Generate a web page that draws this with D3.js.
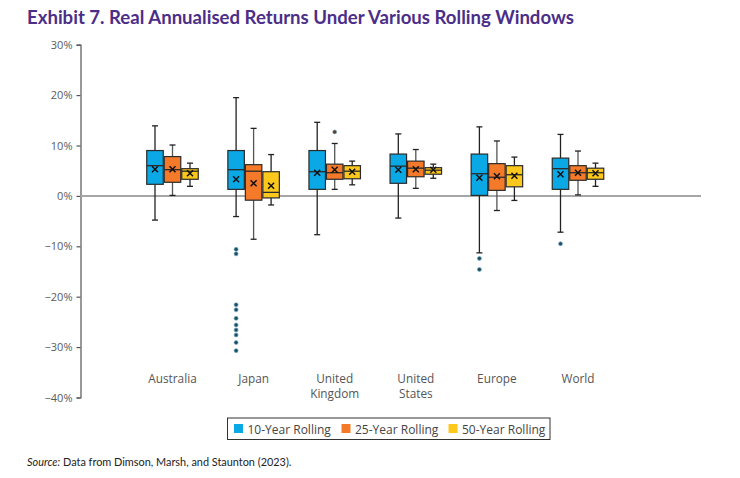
<!DOCTYPE html>
<html>
<head>
<meta charset="utf-8">
<script src="https://cdn.jsdelivr.net/npm/d3@7/dist/d3.min.js"></script>
<style>
  html, body { margin: 0; padding: 0; background: #fff; }
  svg { display: block; }
</style>
</head>
<body>
<svg id="chart" width="740" height="478"></svg>
<script>
// ---------------- DATA ----------------
const categories = ["Australia", "Japan", "United Kingdom", "United States", "Europe", "World"];
const categoryLines = [["Australia"], ["Japan"], ["United", "Kingdom"], ["United", "States"], ["Europe"], ["World"]];
const seriesNames = ["10-Year Rolling", "25-Year Rolling", "50-Year Rolling"];
const yTicks = [30, 20, 10, 0, -10, -20, -30, -40];

// per category: whisker low, Q1, median, Q3, whisker high, mean (in %)
const low10  = [-4.8, -4.1, -7.7, -4.4, -11.3, -7.2];
const q1_10  = [2.3, 1.3, 1.3, 2.5, 0.1, 1.3];
const med10  = [6.0, 5.2, 4.8, 5.9, 4.4, 5.4];
const q3_10  = [9.0, 9.0, 9.0, 8.3, 8.3, 7.5];
const high10 = [13.9, 19.5, 14.6, 12.3, 13.7, 12.2];
const mean10 = [5.3, 3.3, 4.6, 5.2, 3.6, 4.3];

const low25  = [0.1, -8.6, 1.3, 1.5, -2.9, 0.2];
const q1_25  = [2.7, -0.85, 3.3, 3.8, 1.1, 3.1];
const med25  = [5.2, 4.9, 4.6, 5.5, 3.7, 4.6];
const q3_25  = [7.8, 6.2, 6.3, 6.9, 6.4, 6.0];
const high25 = [10.1, 13.4, 10.4, 9.2, 10.9, 8.9];
const mean25 = [5.3, 2.5, 5.2, 5.3, 3.9, 4.6];

const low50  = [1.9, -1.8, 2.2, 3.5, -0.9, 1.9];
const q1_50  = [3.3, -0.4, 3.4, 4.3, 1.8, 3.3];
const med50  = [4.9, 0.7, 4.9, 5.1, 4.2, 4.6];
const q3_50  = [5.4, 4.8, 6.0, 5.6, 6.0, 5.5];
const high50 = [6.5, 8.2, 6.9, 6.3, 7.7, 6.5];
const mean50 = [4.5, 2.0, 4.8, 5.2, 4.0, 4.5];

// outliers per category
const out10 = [[], [-10.6, -11.5, -21.6, -22.6, -24.3, -25.6, -26.6, -27.6, -29.1, -30.7], [], [], [-12.4, -14.6], [-9.5]];
const out25 = [[], [], [12.7], [], [], []];
const out50 = [[], [], [], [], [], []];

// ---------------- STYLE ----------------
const colors = ["#0aa9e6", "#f47a2a", "#fcc81c"];
const outlierFill = ["#13506a", "#5a3a2a", "#5a4a10"];
const offsets = [-17.5, 0, 17.5];
const boxW = 16.5;
const capW = 6;

const series = [
  {low: low10, q1: q1_10, med: med10, q3: q3_10, high: high10, mean: mean10, out: out10},
  {low: low25, q1: q1_25, med: med25, q3: q3_25, high: high25, mean: mean25, out: out25},
  {low: low50, q1: q1_50, med: med50, q3: q3_50, high: high50, mean: mean50, out: out50}
];

const svg = d3.select("#chart");
const axisX = 80.5;

const y = d3.scaleLinear().domain([-40, 30]).range([397.5, 44.7]);
const x = d3.scalePoint().domain(categories).range([172.5, 578]);

// Title
svg.append("text")
  .attr("x", 27).attr("y", 23.5)
  .attr("font-family", "Lato, 'Open Sans', sans-serif")
  .attr("font-weight", "bold")
  .attr("font-size", 18.6)
  .attr("fill", "#4b2e88")
  .text("Exhibit 7. Real Annualised Returns Under Various Rolling Windows");

// Y axis
const yAxis = d3.axisLeft(y).tickValues(yTicks)
  .tickFormat(d => (d < 0 ? "\u2212" : "") + Math.abs(d) + "%")
  .tickSize(4).tickSizeOuter(4);
const gy = svg.append("g").attr("transform", `translate(${axisX},0)`).call(yAxis);
gy.select(".domain").attr("stroke", "#555").attr("stroke-width", 1.2);
gy.selectAll(".tick line").attr("stroke", "#555").attr("stroke-width", 1.2);
gy.selectAll(".tick text")
  .attr("font-family", "'Open Sans', sans-serif")
  .attr("font-size", 11)
  .attr("fill", "#5a5a5a")
  .attr("x", -8);

// Zero line
svg.append("line")
  .attr("x1", axisX).attr("x2", 701)
  .attr("y1", y(0)).attr("y2", y(0))
  .attr("stroke", "#a6a6a6").attr("stroke-width", 2);

// Boxes
series.forEach((s, si) => {
  const g = svg.append("g");
  categories.forEach((c, ci) => {
    const cx = x(c) + offsets[si];
    const lineCol = "#222";
    // whiskers
    g.append("line").attr("x1", cx).attr("x2", cx)
      .attr("y1", y(s.high[ci])).attr("y2", y(s.q3[ci]))
      .attr("stroke", si === 1 ? "#555" : lineCol).attr("stroke-width", 1.3);
    g.append("line").attr("x1", cx).attr("x2", cx)
      .attr("y1", y(s.q1[ci])).attr("y2", y(s.low[ci]))
      .attr("stroke", si === 1 ? "#555" : lineCol).attr("stroke-width", 1.3);
    [s.high[ci], s.low[ci]].forEach(v => {
      g.append("line").attr("x1", cx - capW / 2).attr("x2", cx + capW / 2)
        .attr("y1", y(v)).attr("y2", y(v))
        .attr("stroke", lineCol).attr("stroke-width", 1.3);
    });
    // box
    g.append("rect")
      .attr("x", cx - boxW / 2).attr("width", boxW)
      .attr("y", y(s.q3[ci])).attr("height", y(s.q1[ci]) - y(s.q3[ci]))
      .attr("fill", colors[si]).attr("stroke", "#2a2a2a").attr("stroke-width", 1.2);
    // median
    g.append("line").attr("x1", cx - boxW / 2).attr("x2", cx + boxW / 2)
      .attr("y1", y(s.med[ci])).attr("y2", y(s.med[ci]))
      .attr("stroke", "#2a2a2a").attr("stroke-width", 1.3);
    // mean marker x
    const my = y(s.mean[ci]), m = 3;
    g.append("path")
      .attr("d", `M${cx - m},${my - m}L${cx + m},${my + m}M${cx - m},${my + m}L${cx + m},${my - m}`)
      .attr("stroke", "#111").attr("stroke-width", 1.5).attr("fill", "none");
    // outliers
    s.out[ci].forEach(v => {
      g.append("circle").attr("cx", cx).attr("cy", y(v)).attr("r", 2)
        .attr("fill", outlierFill[si]).attr("stroke", "#7fa7b8").attr("stroke-width", 0.7);
    });
  });
});

// Category labels (each line a separate text element)
categories.forEach((c, ci) => {
  categoryLines[ci].forEach((ln, li) => {
    svg.append("text")
      .attr("x", x(c)).attr("y", 383 + li * 14.5)
      .attr("text-anchor", "middle")
      .attr("font-family", "'Open Sans', sans-serif")
      .attr("font-size", 11.8)
      .attr("fill", "#555")
      .text(ln);
  });
});

// Legend
const legend = svg.append("g");
legend.append("rect")
  .attr("x", 227.5).attr("y", 418).attr("width", 322.5).attr("height", 21.5)
  .attr("fill", "#fff").attr("stroke", "#333").attr("stroke-width", 1);
const legX = [234, 341.5, 448.5];
seriesNames.forEach((n, i) => {
  legend.append("rect").attr("x", legX[i]).attr("y", 424).attr("width", 9).attr("height", 9)
    .attr("fill", colors[i]);
  legend.append("text").attr("x", legX[i] + 13.5).attr("y", 433.5)
    .attr("font-family", "'Open Sans', sans-serif")
    .attr("font-size", 12)
    .attr("fill", "#444")
    .text(n);
});

// Source
const src = svg.append("text")
  .attr("x", 27).attr("y", 466)
  .attr("font-family", "Lato, 'Open Sans', sans-serif")
  .attr("font-size", 10.9)
  .attr("fill", "#222");
src.append("tspan").attr("font-style", "italic").text("Source:");
src.append("tspan").text(" Data from Dimson, Marsh, and Staunton (2023).");
</script>
</body>
</html>
